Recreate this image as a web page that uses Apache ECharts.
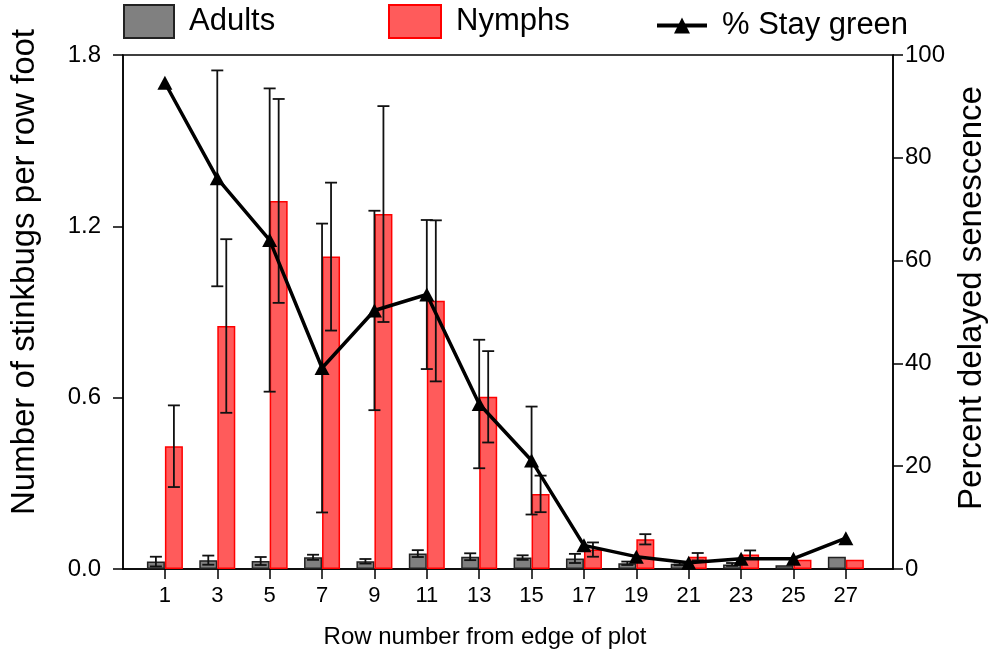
<!DOCTYPE html>
<html>
<head>
<meta charset="utf-8">
<script src="https://cdn.jsdelivr.net/npm/echarts@6/dist/echarts.min.js"></script>
<style>
html,body{margin:0;padding:0;background:#fff;}
#chart{width:991px;height:658px;}
</style>
</head>
<body>
<div id="chart"></div>
<script>
// ---- data ----
const rows = [1, 3, 5, 7, 9, 11, 13, 15, 17, 19, 21, 23, 25, 27];
const adults = [0.026, 0.031, 0.028, 0.041, 0.027, 0.054, 0.043, 0.040, 0.037, 0.020, 0.018, 0.016, 0.013, 0.043];
const adultsErr = [0.017, 0.016, 0.014, 0.009, 0.008, 0.012, 0.012, 0.008, 0.016, 0.006, 0.005, 0.005, 0, 0];
const nymphs = [0.43, 0.851, 1.289, 1.094, 1.243, 0.939, 0.603, 0.263, 0.068, 0.104, 0.043, 0.051, 0.032, 0.032];
const nymphsErr = [0.143, 0.304, 0.357, 0.259, 0.378, 0.282, 0.16, 0.064, 0.025, 0.018, 0.013, 0.014, 0, 0];
const stayGreen = [94.6, 76.0, 64.0, 39.1, 50.3, 53.4, 32.1, 21.1, 4.6, 2.4, 1.2, 2.0, 2.0, 6.0];
const stayGreenErr = [0, 21.0, 29.5, 28.1, 19.4, 14.5, 12.5, 10.5, 0, 0, 0, 0, 0, 0];
const leftTicks = [0, 0.6, 1.2, 1.8];
const rightTicks = [0, 20, 40, 60, 80, 100];

const FONT = '"Liberation Sans", Arial, sans-serif';
const BAR_W = 18;

const chart = echarts.init(document.getElementById('chart'), null, {renderer: 'canvas'});

function errRenderer(offset, capHalf) {
  return function (params, api) {
    const x = api.value(0), v = api.value(1), e = api.value(2);
    if (!e) return null;
    const top = api.coord([x, v + e]);
    const bot = api.coord([x, v - e]);
    const cx = top[0] + offset;
    const style = {stroke: '#111', lineWidth: 1.8};
    return {
      type: 'group',
      children: [
        {type: 'line', shape: {x1: cx, y1: top[1], x2: cx, y2: bot[1]}, style: style},
        {type: 'line', shape: {x1: cx - capHalf, y1: top[1], x2: cx + capHalf, y2: top[1]}, style: style},
        {type: 'line', shape: {x1: cx - capHalf, y1: bot[1], x2: cx + capHalf, y2: bot[1]}, style: style}
      ]
    };
  };
}

const axisLineStyle = {color: '#000', width: 1.5};
const legendText = {fontFamily: FONT, fontSize: 31, color: '#000', padding: [0, 0, 0, 10]};

const option = {
  animation: false,
  backgroundColor: '#fff',
  grid: {left: 123, right: 98, top: 55, bottom: 89, show: true, borderColor: '#000', borderWidth: 1.5, backgroundColor: 'transparent'},
  legend: [
    {
      data: [{name: 'Adults', icon: 'rect'}], left: 123, top: 4, padding: 0, itemWidth: 50, itemHeight: 33,
      textStyle: legendText, selectedMode: false
    },
    {
      data: [{name: 'Nymphs', icon: 'rect'}], left: 388, top: 4, padding: 0, itemWidth: 52, itemHeight: 33,
      textStyle: legendText, selectedMode: false
    },
    {
      data: ['% Stay green'], left: 655, top: 10, padding: 0, itemWidth: 50, itemHeight: 20,
      lineStyle: {color: '#000', width: 4},
      textStyle: legendText, selectedMode: false
    }
  ],
  xAxis: {
    type: 'value', min: -0.6, max: 28.8,
    axisLine: {show: true, onZero: false, lineStyle: axisLineStyle},
    axisTick: {show: true, customValues: rows, length: 10, lineStyle: axisLineStyle},
    axisLabel: {show: true, customValues: rows, margin: 16, fontFamily: FONT, fontSize: 22, color: '#000'},
    splitLine: {show: false}
  },
  yAxis: [
    {
      type: 'value', min: 0, max: 1.8, interval: 0.6, position: 'left',
      axisLine: {show: true, onZero: false, lineStyle: axisLineStyle},
      axisTick: {show: true, length: 10, lineStyle: axisLineStyle},
      axisLabel: {margin: 22, fontFamily: FONT, fontSize: 24, color: '#000', formatter: v => v.toFixed(1)},
      splitLine: {show: false}
    },
    {
      type: 'value', min: 0, max: 100, interval: 20, position: 'right',
      axisLine: {show: true, onZero: false, lineStyle: axisLineStyle},
      axisTick: {show: true, length: 10, lineStyle: axisLineStyle},
      axisLabel: {margin: 12, fontFamily: FONT, fontSize: 24, color: '#000'},
      splitLine: {show: false}
    }
  ],
  series: [
    {
      name: 'Adults', type: 'bar', barWidth: BAR_W, barGap: '0%',
      data: rows.map((r, i) => [r, adults[i]]),
      itemStyle: {color: '#808080', borderColor: '#222', borderWidth: 1.5}
    },
    {
      name: 'Nymphs', type: 'bar', barWidth: BAR_W, barGap: '0%',
      data: rows.map((r, i) => [r, nymphs[i]]),
      itemStyle: {color: '#ff5b5b', borderColor: '#ff0000', borderWidth: 1.5}
    },
    {
      name: 'adultsErr', type: 'custom', z: 3,
      data: rows.map((r, i) => [r, adults[i], adultsErr[i]]),
      encode: {x: 0, y: 1},
      renderItem: errRenderer(-BAR_W / 2, 6)
    },
    {
      name: 'nymphsErr', type: 'custom', z: 3,
      data: rows.map((r, i) => [r, nymphs[i], nymphsErr[i]]),
      encode: {x: 0, y: 1},
      renderItem: errRenderer(BAR_W / 2, 6)
    },
    {
      name: 'greenErr', type: 'custom', z: 3, yAxisIndex: 1,
      data: rows.map((r, i) => [r, stayGreen[i], stayGreenErr[i]]),
      encode: {x: 0, y: 1},
      renderItem: errRenderer(0, 6)
    },
    {
      name: '% Stay green', type: 'line', yAxisIndex: 1, z: 5,
      data: rows.map((r, i) => [r, stayGreen[i]]),
      symbol: 'triangle', symbolSize: [15, 14],
      lineStyle: {color: '#000', width: 3.5},
      itemStyle: {color: '#000'}
    }
  ],
  graphic: [
    {
      type: 'text', z: 10,
      x: 25, y: 272,
      rotation: Math.PI / 2,
      style: {text: 'Number of stinkbugs per row foot', font: '33px ' + FONT, fill: '#000', textAlign: 'center', textVerticalAlign: 'middle'}
    },
    {
      type: 'text', z: 10,
      x: 972, y: 298,
      rotation: Math.PI / 2,
      style: {text: 'Percent delayed senescence', font: '33px ' + FONT, fill: '#000', textAlign: 'center', textVerticalAlign: 'middle'}
    },
    {
      type: 'text', z: 10,
      x: 485, y: 637,
      style: {text: 'Row number from edge of plot', font: '24px ' + FONT, fill: '#000', textAlign: 'center', textVerticalAlign: 'middle'}
    }
  ]
};
chart.setOption(option);
</script>
</body>
</html>
